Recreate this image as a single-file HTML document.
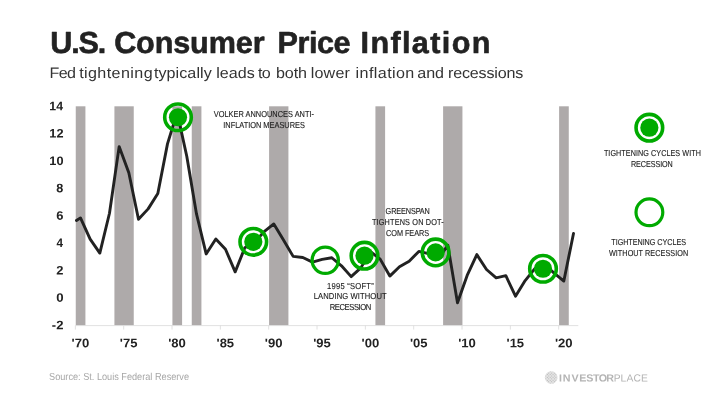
<!DOCTYPE html>
<html lang="en"><head><meta charset="utf-8"><title>U.S. Consumer Price Inflation</title>
<style>html,body{margin:0;padding:0;background:#fff}svg{display:block}text{text-rendering:geometricPrecision}</style></head>
<body>
<svg width="728" height="400" viewBox="0 0 728 400">
<rect width="728" height="400" fill="#fff"/>
<rect x="75.75" y="106.3" width="9.67" height="219.00" fill="#aeaaaa"/>
<rect x="114.42" y="106.3" width="19.33" height="219.00" fill="#aeaaaa"/>
<rect x="172.42" y="106.3" width="9.67" height="219.00" fill="#aeaaaa"/>
<rect x="191.75" y="106.3" width="9.67" height="219.00" fill="#aeaaaa"/>
<rect x="269.09" y="106.3" width="19.33" height="219.00" fill="#aeaaaa"/>
<rect x="375.43" y="106.3" width="9.67" height="219.00" fill="#aeaaaa"/>
<rect x="443.10" y="106.3" width="19.33" height="219.00" fill="#aeaaaa"/>
<rect x="559.10" y="106.3" width="9.67" height="219.00" fill="#aeaaaa"/>
<line x1="75.35" y1="325.6" x2="578.3" y2="325.6" stroke="#d9d9d9" stroke-width="0.8"/>
<line x1="75.35" y1="325.6" x2="75.35" y2="329.6" stroke="#d9d9d9" stroke-width="0.8"/>
<line x1="123.69" y1="325.6" x2="123.69" y2="329.6" stroke="#d9d9d9" stroke-width="0.8"/>
<line x1="172.02" y1="325.6" x2="172.02" y2="329.6" stroke="#d9d9d9" stroke-width="0.8"/>
<line x1="220.36" y1="325.6" x2="220.36" y2="329.6" stroke="#d9d9d9" stroke-width="0.8"/>
<line x1="268.69" y1="325.6" x2="268.69" y2="329.6" stroke="#d9d9d9" stroke-width="0.8"/>
<line x1="317.03" y1="325.6" x2="317.03" y2="329.6" stroke="#d9d9d9" stroke-width="0.8"/>
<line x1="365.36" y1="325.6" x2="365.36" y2="329.6" stroke="#d9d9d9" stroke-width="0.8"/>
<line x1="413.70" y1="325.6" x2="413.70" y2="329.6" stroke="#d9d9d9" stroke-width="0.8"/>
<line x1="462.03" y1="325.6" x2="462.03" y2="329.6" stroke="#d9d9d9" stroke-width="0.8"/>
<line x1="510.37" y1="325.6" x2="510.37" y2="329.6" stroke="#d9d9d9" stroke-width="0.8"/>
<line x1="558.70" y1="325.6" x2="558.70" y2="329.6" stroke="#d9d9d9" stroke-width="0.8"/>
<path d="M76.45,220.56 L80.48,217.91 L90.15,239.13 L99.82,253.09 L109.48,213.26 L119.15,146.59 L128.82,172.73 L138.49,219.28 L148.15,208.88 L157.82,193.41 L167.49,143.85 L177.15,112.36 L186.82,156.44 L196.49,213.94 L206.15,253.92 L215.82,238.99 L225.49,249.26 L235.16,271.85 L244.82,247.75 L254.49,242.00 L264.16,231.74 L273.82,223.93 L283.49,239.95 L293.16,256.38 L302.82,257.47 L312.49,262.13 L322.16,259.39 L331.83,257.75 L341.49,265.83 L351.16,276.64 L360.83,267.88 L370.49,251.59 L380.16,259.12 L389.83,276.09 L399.49,266.78 L409.16,261.17 L418.83,251.45 L428.50,253.64 L438.16,258.84 L447.83,245.29 L457.50,302.79 L467.16,275.41 L476.83,254.60 L486.50,269.52 L496.16,277.87 L505.83,275.68 L515.50,296.22 L525.17,280.61 L534.83,268.70 L544.50,264.46 L554.17,273.08 L563.83,281.02 L573.50,233.52" fill="none" stroke="#222" stroke-width="2.9" stroke-linejoin="round" stroke-linecap="round"/>
<circle cx="178" cy="117.25" r="13.3" fill="none" stroke="#00aa00" stroke-width="3.6"/><circle cx="178" cy="117.25" r="9.1" fill="#00aa00"/>
<circle cx="253.3" cy="241.8" r="13.3" fill="none" stroke="#00aa00" stroke-width="3.6"/><circle cx="253.3" cy="241.8" r="9.1" fill="#00aa00"/>
<circle cx="325.25" cy="260.25" r="13.15" fill="none" stroke="#00aa00" stroke-width="3.3"/>
<circle cx="364.5" cy="255.7" r="13.3" fill="none" stroke="#00aa00" stroke-width="3.6"/><circle cx="364.5" cy="255.7" r="9.1" fill="#00aa00"/>
<circle cx="435.6" cy="252.4" r="13.3" fill="none" stroke="#00aa00" stroke-width="3.6"/><circle cx="435.6" cy="252.4" r="9.1" fill="#00aa00"/>
<circle cx="543" cy="268.75" r="13.3" fill="none" stroke="#00aa00" stroke-width="3.6"/><circle cx="543" cy="268.75" r="9.1" fill="#00aa00"/>
<circle cx="649.35" cy="127.7" r="13.3" fill="none" stroke="#00aa00" stroke-width="3.6"/><circle cx="649.35" cy="127.7" r="9.1" fill="#00aa00"/>
<circle cx="649.4" cy="212.3" r="13.4" fill="none" stroke="#00aa00" stroke-width="3.2"/>
<text transform="translate(52.10,53.00) rotate(0.03) scale(1.0061,1)" font-family="Liberation Sans, sans-serif" font-weight="700" font-size="30.4" fill="#222" stroke="#222" stroke-width="0.6" stroke-linejoin="round"><tspan x="-1.75" y="0.00" letter-spacing="-1.188">U.S.</tspan> <tspan x="61.67" y="-0.03" letter-spacing="-0.114">Consumer</tspan> <tspan x="224.03" y="-0.12" letter-spacing="-0.443">Price</tspan> <tspan x="306.62" y="-0.16" letter-spacing="1.352">Inflation</tspan></text>
<text transform="translate(50.90,78.00) rotate(0.03) scale(1.0659,1)" font-family="Liberation Sans, sans-serif" font-size="15.1" fill="#333"><tspan x="-1.25" y="0.00" letter-spacing="-0.633">Fed</tspan> <tspan x="26.49" y="-0.01" letter-spacing="0.384">tightening</tspan> <tspan x="96.66" y="-0.05" letter-spacing="0.067">typically</tspan> <tspan x="155.02" y="-0.09" letter-spacing="0.022">leads</tspan> <tspan x="194.32" y="-0.11" letter-spacing="-0.773">to</tspan> <tspan x="211.12" y="-0.12" letter-spacing="-0.066">both</tspan> <tspan x="243.77" y="-0.14" letter-spacing="0.170">lower</tspan> <tspan x="285.80" y="-0.16" letter-spacing="0.391">inflation</tspan> <tspan x="343.68" y="-0.19" letter-spacing="-0.007">and</tspan> <tspan x="372.58" y="-0.21" letter-spacing="-0.168">recessions</tspan></text>
<text transform="translate(51.87,329.24) rotate(0.03) scale(1.0600,1)" font-family="Liberation Sans, sans-serif" font-weight="700" font-size="12.3" fill="#222">-2</text>
<text transform="translate(56.16,301.86) rotate(0.03) scale(1.0723,1)" font-family="Liberation Sans, sans-serif" font-weight="700" font-size="12.3" fill="#222">0</text>
<text transform="translate(56.31,274.48) rotate(0.03) scale(1.0500,1)" font-family="Liberation Sans, sans-serif" font-weight="700" font-size="12.3" fill="#222">2</text>
<text transform="translate(56.58,247.10) rotate(0.03) scale(0.9509,1)" font-family="Liberation Sans, sans-serif" font-weight="700" font-size="12.3" fill="#222">4</text>
<text transform="translate(56.31,219.72) rotate(0.03) scale(1.0500,1)" font-family="Liberation Sans, sans-serif" font-weight="700" font-size="12.3" fill="#222">6</text>
<text transform="translate(56.31,192.34) rotate(0.03) scale(1.0286,1)" font-family="Liberation Sans, sans-serif" font-weight="700" font-size="12.3" fill="#222">8</text>
<text transform="translate(49.33,164.96) rotate(0.03) scale(1.0320,1)" font-family="Liberation Sans, sans-serif" font-weight="700" font-size="12.3" fill="#222">10</text>
<text transform="translate(49.33,137.58) rotate(0.03) scale(1.0320,1)" font-family="Liberation Sans, sans-serif" font-weight="700" font-size="12.3" fill="#222">12</text>
<text transform="translate(49.35,110.20) rotate(0.03) scale(1.0019,1)" font-family="Liberation Sans, sans-serif" font-weight="700" font-size="12.3" fill="#222">14</text>
<text transform="translate(71.53,347.30) rotate(0.03) scale(1.0476,1)" font-family="Liberation Sans, sans-serif" font-weight="700" font-size="12.5" fill="#222">'70</text>
<text transform="translate(119.87,347.30) rotate(0.03) scale(1.0394,1)" font-family="Liberation Sans, sans-serif" font-weight="700" font-size="12.5" fill="#222">'75</text>
<text transform="translate(168.20,347.30) rotate(0.03) scale(1.0476,1)" font-family="Liberation Sans, sans-serif" font-weight="700" font-size="12.5" fill="#222">'80</text>
<text transform="translate(216.54,347.30) rotate(0.03) scale(1.0394,1)" font-family="Liberation Sans, sans-serif" font-weight="700" font-size="12.5" fill="#222">'85</text>
<text transform="translate(264.87,347.30) rotate(0.03) scale(1.0476,1)" font-family="Liberation Sans, sans-serif" font-weight="700" font-size="12.5" fill="#222">'90</text>
<text transform="translate(313.21,347.30) rotate(0.03) scale(1.0394,1)" font-family="Liberation Sans, sans-serif" font-weight="700" font-size="12.5" fill="#222">'95</text>
<text transform="translate(361.54,347.30) rotate(0.03) scale(1.0476,1)" font-family="Liberation Sans, sans-serif" font-weight="700" font-size="12.5" fill="#222">'00</text>
<text transform="translate(409.88,347.30) rotate(0.03) scale(1.0394,1)" font-family="Liberation Sans, sans-serif" font-weight="700" font-size="12.5" fill="#222">'05</text>
<text transform="translate(458.21,347.30) rotate(0.03) scale(1.0476,1)" font-family="Liberation Sans, sans-serif" font-weight="700" font-size="12.5" fill="#222">'10</text>
<text transform="translate(506.55,347.30) rotate(0.03) scale(1.0394,1)" font-family="Liberation Sans, sans-serif" font-weight="700" font-size="12.5" fill="#222">'15</text>
<text transform="translate(554.88,347.30) rotate(0.03) scale(1.0476,1)" font-family="Liberation Sans, sans-serif" font-weight="700" font-size="12.5" fill="#222">'20</text>
<text transform="translate(213.70,117.00) rotate(0.03) scale(0.8533,1)" font-family="Liberation Sans, sans-serif" font-size="8.7" fill="#1c1c1c" stroke="#1c1c1c" stroke-width="0.12"><tspan x="0.00" y="0.00" letter-spacing="0.013">VOLKER ANNOUNCES ANTI-</tspan> <tspan x="11.20" y="10.99" letter-spacing="-0.013">INFLATION MEASURES</tspan></text>
<text transform="translate(385.90,214.00) rotate(0.03) scale(0.8405,1)" font-family="Liberation Sans, sans-serif" font-size="8.7" fill="#1c1c1c" stroke="#1c1c1c" stroke-width="0.12"><tspan x="-0.38" y="0.00" letter-spacing="-0.157">GREENSPAN</tspan> <tspan x="-16.54" y="11.01" letter-spacing="0.179">TIGHTENS ON DOT-</tspan> <tspan x="0.22" y="22.00" letter-spacing="-0.056">COM FEARS</tspan></text>
<text transform="translate(327.60,289.00) rotate(0.03) scale(0.8751,1)" font-family="Liberation Sans, sans-serif" font-size="8.7" fill="#1c1c1c" stroke="#1c1c1c" stroke-width="0.12"><tspan x="-0.62" y="0.00" letter-spacing="0.255">1995 “SOFT”</tspan> <tspan x="-15.83" y="10.01" letter-spacing="0.123">LANDING WITHOUT</tspan> <tspan x="2.45" y="21.00" letter-spacing="-0.452">RECESSION</tspan></text>
<text transform="translate(604.00,156.00) rotate(0.03) scale(0.8293,1)" font-family="Liberation Sans, sans-serif" font-size="8.7" fill="#1c1c1c" stroke="#1c1c1c" stroke-width="0.12"><tspan x="-0.12" y="0.00" letter-spacing="0.075">TIGHTENING CYCLES WITH</tspan> <tspan x="32.53" y="10.99" letter-spacing="-0.086">RECESSION</tspan></text>
<text transform="translate(611.40,245.00) rotate(0.03) scale(0.8333,1)" font-family="Liberation Sans, sans-serif" font-size="8.7" fill="#1c1c1c" stroke="#1c1c1c" stroke-width="0.12"><tspan x="-0.12" y="0.00" letter-spacing="-0.070">TIGHTENING CYCLES</tspan> <tspan x="-3.00" y="11.00" letter-spacing="0.072">WITHOUT RECESSION</tspan></text>
<text transform="translate(49.05,379.50) rotate(0.03) scale(0.8989,1)" font-family="Liberation Sans, sans-serif" font-size="10.2" fill="#a6a6a6">Source: St. Louis Federal Reserve</text>
<defs><pattern id="dots" width="2.05" height="2.05" patternUnits="userSpaceOnUse" patternTransform="rotate(45 551.2 377.5)"><circle cx="1.02" cy="1.02" r="0.5" fill="#a8a8a8"/></pattern></defs>
<circle cx="551.2" cy="377.5" r="6.3" fill="#e4e4e4"/><circle cx="551.2" cy="377.5" r="6.3" fill="url(#dots)"/>
<text transform="translate(559.80,381.40) rotate(0.03) scale(1.04,1)" x="-0.80 2.95 11.37 18.65 25.33 31.83 37.36 44.73" font-family="Liberation Sans, sans-serif" font-weight="700" font-size="10.3" fill="#b4b4b4">INVESTOR</text>
<text transform="translate(614.70,381.40) rotate(0.03) scale(1.0,1)" x="-1.06 5.77 11.92 18.75 26.27" font-family="Liberation Sans, sans-serif" font-size="10.3" fill="#b4b4b4">PLACE</text>
</svg>
</body></html>
